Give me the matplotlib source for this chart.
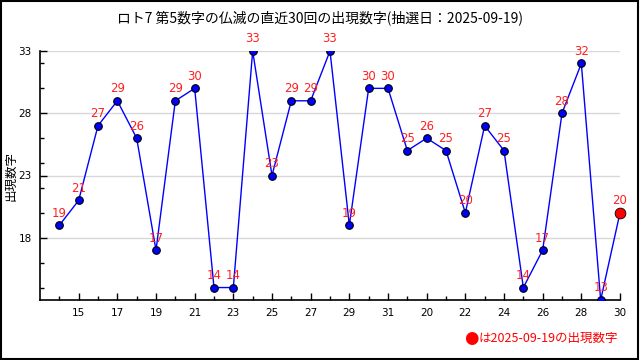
import matplotlib
matplotlib.use("Agg")
import matplotlib.pyplot as plt
from matplotlib.patches import Rectangle

plt.rcParams['font.family'] = ['Noto Sans CJK JP', 'DejaVu Sans']

# draw order 1..30, value of the 5th number
draws = list(range(1, 31))
values = [19, 21, 27, 29, 26, 17, 29, 30, 14, 14, 33, 23, 29, 29, 33,
          19, 30, 30, 25, 26, 25, 20, 27, 25, 14, 17, 28, 32, 13, 20]
# tick labels shown on every second draw
label_pos = [2, 4, 6, 8, 10, 12, 14, 16, 18, 20, 22, 24, 26, 28, 30]
label_txt = ['15', '17', '19', '21', '23', '25', '27', '29', '31',
             '20', '22', '24', '26', '28', '30']
y_major = [18, 23, 28, 33]
y_minor = [14, 16, 20, 22, 24, 26, 30, 32]

title = 'ロト7 第5数字の仏滅の直近30回の出現数字(抽選日：2025-09-19)'
note = 'は2025-09-19の出現数字'

fig = plt.figure(figsize=(6.4, 3.6), dpi=100)
ax = fig.add_axes([40/640, 60/360, 580/640, 249/360])

#line and markers
ax.plot(draws, values, color='#0000ff', lw=1, zorder=2)
ax.scatter(draws[:-1], values[:-1], s=30, color='#0000ff', edgecolor='black', lw=0.8, zorder=3)
ax.scatter(draws[-1:], values[-1:], s=60, color='#ff0000', edgecolor='black', lw=0.6, zorder=4, clip_on=False)

#value labels above each point
for x, v in zip(draws, values):
    ax.annotate(str(v), (x, v), xytext=(0, 4), textcoords='offset points',
                ha='center', va='bottom', color='#ff2020', fontsize=8.5,
                family=['DejaVu Sans'], annotation_clip=False)

ax.set_xlim(0, 30)
ax.set_ylim(13, 33)
ax.set_xticks(draws, minor=True)
ax.set_xticks(label_pos)
ax.set_xticklabels(label_txt, family=['DejaVu Sans'], fontsize=7.5)
ax.set_yticks(y_major)
ax.set_yticks(y_minor, minor=True)
ax.set_yticklabels([str(t) for t in y_major], family=['DejaVu Sans'], fontsize=7.5)
# ticks point inward like the original
ax.tick_params(axis='both', which='major', length=5, width=1, direction='in', pad=6)
ax.tick_params(axis='both', which='minor', length=3, width=1, direction='in')
ax.grid(axis='y', color='#d8d8d8', lw=1)
ax.set_axisbelow(True)

for side in ['top', 'right']:
    ax.spines[side].set_visible(False)
ax.spines['left'].set_linewidth(1.2)
ax.spines['bottom'].set_linewidth(1.2)

#y label placed by hand, left of the tick labels
fig.text(11/640, 1 - 176/360, '出現数字', rotation=90, ha='center', va='center', fontsize=9)

fig.text(0.5, 1 - 18/360, title, ha='center', va='center', fontsize=10)

#note at bottom right, with a bigger red dot in front
fig.text(618/640, 1 - 338/360, note, ha='right', va='center', fontsize=9, color='#ff0000')
fig.text(479/640, 1 - 338/360, '●', ha='right', va='center', fontsize=12, color='#ff0000',
         family=['DejaVu Sans'])

#outer border
fig.patches.append(Rectangle((0.002, 0.003), 0.995, 0.994, transform=fig.transFigure,
                             fill=False, edgecolor='black', lw=1.5))

fig.savefig('out.png', dpi=100)
